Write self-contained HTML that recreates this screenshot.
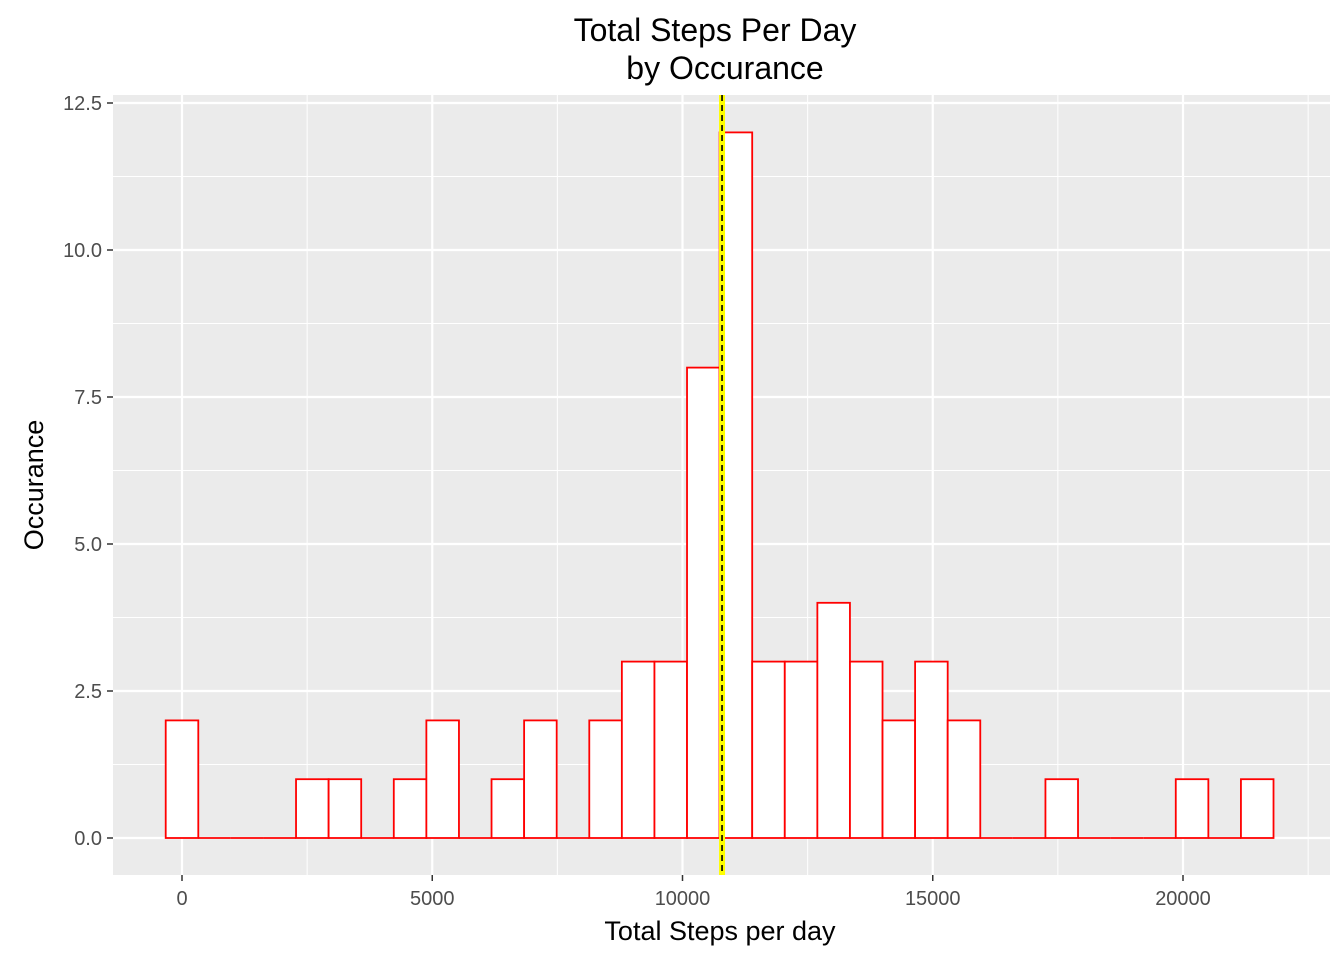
<!DOCTYPE html>
<html><head><meta charset="utf-8"><style>
body{margin:0;background:#fff;font-family:"Liberation Sans",sans-serif}
</style></head><body>
<svg id="chart" width="1344" height="960" xmlns="http://www.w3.org/2000/svg" font-family="Liberation Sans, sans-serif">
<rect width="1344" height="960" fill="#fff"/>
<rect x="113" y="95" width="1217" height="780" fill="#ebebeb"/>
<g id="grid"></g><g id="bars"></g><g id="mean"></g><g id="axes"></g>
<text x="715" y="41" font-size="32" text-anchor="middle">Total Steps Per Day</text>
<text x="725" y="79" font-size="32" text-anchor="middle">by Occurance</text>
<text x="720" y="940" font-size="27" text-anchor="middle">Total Steps per day</text>
<text transform="translate(43,485) rotate(-90)" font-size="27" text-anchor="middle">Occurance</text>
</svg>
<script>
const binStart = -325.5;
const binWidth = 651;
const counts = [2,0,0,0,1,1,0,1,2,0,1,2,0,2,3,3,8,12,3,3,4,3,2,3,2,0,0,1,0,0,0,1,0,1];
const meanSteps = 10790;
const xTicks = [0,5000,10000,15000,20000];
const xMinor = [2500,7500,12500,17500,22500];
const yTicks = [0,2.5,5,7.5,10,12.5];
const yTickLabels = ["0.0","2.5","5.0","7.5","10.0","12.5"];
const yMinor = [1.25,3.75,6.25,8.75,11.25];
const NS="http://www.w3.org/2000/svg";
const X=v=>182+v*0.05005, Y=v=>838-v*58.8;
function mk(tag,attrs,parent,text){const e=document.createElementNS(NS,tag);for(const k in attrs)e.setAttribute(k,attrs[k]);if(text!=null)e.textContent=text;document.getElementById(parent).appendChild(e);return e;}
xMinor.forEach(v=>{const e=mk('line',{x1:X(v),x2:X(v),y1:95,y2:875,stroke:'#fff','stroke-width':1},'grid');

});
yMinor.forEach(v=>{const e=mk('line',{x1:113,x2:1330,y1:Y(v),y2:Y(v),stroke:'#fff','stroke-width':1},'grid');

});
xTicks.forEach(v=>{const e=mk('line',{x1:X(v),x2:X(v),y1:95,y2:875,stroke:'#fff','stroke-width':2.2},'grid');


const t=mk('line',{x1:X(v),x2:X(v),y1:875,y2:881,stroke:'#333','stroke-width':1.5},'axes');


const l=mk('text',{x:X(v),y:905,'font-size':20,fill:'#4d4d4d','text-anchor':'middle'},'axes',String(v));

});
yTicks.forEach((v,i)=>{const e=mk('line',{x1:113,x2:1330,y1:Y(v),y2:Y(v),stroke:'#fff','stroke-width':2.2},'grid');


const t=mk('line',{x1:107,x2:113,y1:Y(v),y2:Y(v),stroke:'#333','stroke-width':1.5},'axes');


const l=mk('text',{x:102,y:Y(v)+7,'font-size':20,fill:'#4d4d4d','text-anchor':'end'},'axes',yTickLabels[i]);

});
counts.forEach((c,i)=>{const x0=X(binStart+i*binWidth),x1=X(binStart+(i+1)*binWidth);
if(c===0){const z=mk('line',{x1:x0,x2:x1,y1:Y(0),y2:Y(0),stroke:'#ff0000','stroke-width':1.8},'bars');

return;}
const r=mk('rect',{x:x0,y:Y(c),width:x1-x0,height:Y(0)-Y(c),fill:'#fff',stroke:'#ff0000','stroke-width':1.8},'bars');

});
const m1=mk('line',{x1:X(meanSteps),x2:X(meanSteps),y1:95,y2:875,stroke:'#ffff00','stroke-width':6},'mean');


const m2=mk('line',{x1:X(meanSteps),x2:X(meanSteps),y1:95,y2:875,stroke:'#000','stroke-width':1.6,'stroke-dasharray':'6,4'},'mean');


</script>
</body></html>
